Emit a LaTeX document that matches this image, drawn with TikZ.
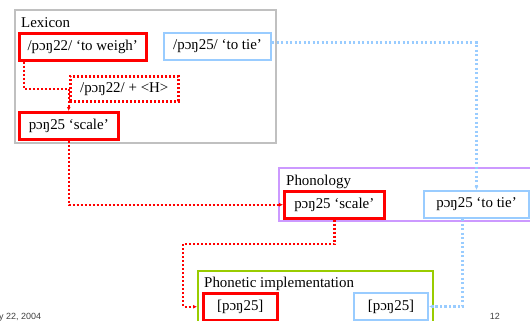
\documentclass[tikz,border=0pt]{standalone}
\usepackage{fontspec}
\setmainfont{Liberation Serif}
\setsansfont{Liberation Sans}
\usetikzlibrary{arrows.meta}
\definecolor{lexgray}{RGB}{192,192,192}
\definecolor{tieblue}{RGB}{153,204,255}
\definecolor{phonpurple}{RGB}{204,153,255}
\definecolor{implgreen}{RGB}{153,204,0}
\tikzset{
  level/.style={draw, line width=2bp, inner sep=0, anchor=north west},
  form/.style={draw, line width=2.5bp, inner sep=0, anchor=north west, minimum height=27bp},
  label/.style={anchor=base west, inner sep=0},
  reddot/.style={draw=red, line width=2.5bp, dash pattern=on 2bp off 2bp},
  bluedot/.style={draw=tieblue, line width=2.5bp, dash pattern=on 2.2bp off 2.3bp},
  tip/.style={-{Latex[length=4bp,width=4bp]}}
}
\begin{document}
\begin{tikzpicture}[x=1bp, y=-1bp, font=\fontsize{15}{18}\selectfont, line join=miter]
  \clip (0,0) rectangle (530,320);
  % levels
  \node[level, draw=lexgray, minimum width=261bp, minimum height=133bp] (lexicon) at (14,9) {};
  \node[level, draw=phonpurple, minimum width=254bp, minimum height=53bp] (phonology) at (278,167) {};
  \node[level, draw=implgreen, minimum width=235bp, minimum height=70bp] (impl) at (197,270) {};
  \node[label] (lexlabel) at (21,27) {Lexicon};
  \node[label] (phonlabel) at (286,185) {Phonology};
  \node[label] (impllabel) at (204,287) {Phonetic implementation};
  % forms
  \node[form, draw=red, minimum width=127bp] (weigh) at (18,32) {/pɔŋ22/ ‘to weigh’};
  \node[form, draw=tieblue, line width=2bp, minimum width=107bp] (tie) at (163,32) {/pɔŋ25/ ‘to tie’};
  \node[form, reddot, minimum width=108bp, minimum height=25bp] (tone) at (69,75) {/pɔŋ22/ + <H>};
  \node[form, draw=red, minimum width=99bp] (lexscale) at (18,111) {pɔŋ25 ‘scale’};
  \node[form, draw=red, minimum width=100bp] (phscale) at (283,190) {pɔŋ25 ‘scale’};
  \node[form, draw=tieblue, line width=2bp, minimum width=105bp] (phtie) at (423,190) {pɔŋ25 ‘to tie’};
  \node[form, draw=red, minimum width=74bp] (phred) at (202,292) {[pɔŋ25]};
  \node[form, draw=tieblue, line width=2bp, minimum width=74bp] (phblue) at (353,292) {[pɔŋ25]};
  % connectors
  \coordinate (bend) at (183,244);
  \draw[reddot] ([xshift=6bp]weigh.south west) |- (tone.west);
  \draw[reddot, tip] (tone.west -| lexscale.north) -- (lexscale.north);
  \draw[reddot, tip] (lexscale.south) |- (phscale.west);
  \draw[reddot, tip] (phscale.south) |- (bend) |- (impl.west |- phred.west);
  \draw[bluedot, tip] ([yshift=4bp]tie.east) -| (phtie.north);
  \draw[bluedot, tip] ([xshift=-14bp]phtie.south) |- (phblue.east);
  % footer
  \node[label, font=\sffamily\fontsize{9}{10}\selectfont, text=black!75] (date) at (-1,319) {y 22, 2004};
  \node[anchor=base east, inner sep=0, font=\sffamily\fontsize{9}{10}\selectfont, text=black!75] (page) at (500,319) {12};
\end{tikzpicture}
\end{document}
